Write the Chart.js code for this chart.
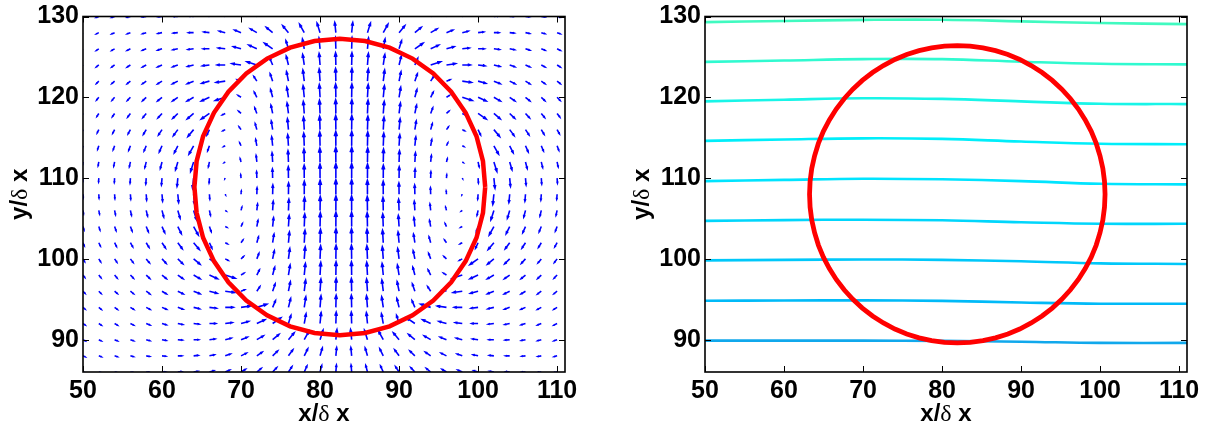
<!DOCTYPE html>
<html>
<head>
<meta charset="utf-8">
<script src="https://cdn.jsdelivr.net/npm/chart.js@4.4.0/dist/chart.umd.min.js"></script>
<style>
html, body { margin: 0; padding: 0; background: #fff; }
#wrap { position: relative; width: 1207px; height: 430px; }
.pane { position: absolute; top: 0; height: 430px; }
</style>
</head>
<body>
<div id="wrap">
  <div class="pane" style="left:0;width:600px"><canvas id="left"></canvas></div>
  <div class="pane" style="left:601px;width:606px"><canvas id="right"></canvas></div>
</div>
<script>
// axis ticks
const xTicks = [50, 60, 70, 80, 90, 100, 110]
const yTicks = [90, 100, 110, 120, 130]

// quiver grid (left panel)
const gridX = [50,52,54,56,58,60,62,64,66,68,70,72,74,76,78,80,82,84,86,88,90,92,94,96,98,100,102,104,106,108,110]
const gridY = [130,128,126,124,122,120,118,116,114,112,110,108,106,104,102,100,98,96,94,92,90,88,86]

// velocity, in hundredths, one row per gridY
const velU = [
  [-30,-34,-38,-42,-47,-52,-58,-63,-68,-72,-75,-74,-70,-62,-49,-32,-11,11,32,49,62,70,74,75,72,68,63,58,52,47,42],
  [-30,-34,-39,-44,-50,-56,-63,-70,-78,-84,-89,-91,-89,-80,-65,-42,-15,15,42,65,80,89,91,89,84,78,70,63,56,50,44],
  [-30,-34,-39,-45,-52,-59,-68,-78,-88,-98,-107,-113,-114,-35,-25,-15,-5,5,15,25,35,114,113,107,98,88,78,68,59,52,45],
  [-29,-34,-39,-45,-53,-62,-72,-84,-98,-113,-128,-140,-40,-31,-22,-13,-4,4,13,22,31,40,140,128,113,98,84,72,62,53,45],
  [-28,-32,-38,-44,-52,-62,-75,-89,-107,-128,-50,-42,-35,-27,-19,-12,-4,4,12,19,27,35,42,50,128,107,89,75,62,52,44],
  [-25,-30,-35,-42,-50,-61,-74,-91,-113,-140,-42,-36,-29,-23,-16,-10,-3,3,10,16,23,29,36,42,140,113,91,74,61,50,42],
  [-22,-26,-31,-38,-46,-57,-70,-89,-114,-40,-35,-29,-24,-19,-13,-8,-3,3,8,13,19,24,29,35,40,114,89,70,57,46,38],
  [-18,-22,-26,-32,-39,-49,-62,-80,-35,-31,-27,-23,-19,-14,-10,-6,-2,2,6,10,14,19,23,27,31,35,80,62,49,39,32],
  [-14,-16,-20,-24,-30,-38,-49,-65,-25,-22,-19,-16,-13,-10,-7,-4,-1,1,4,7,10,13,16,19,22,25,65,49,38,30,24],
  [-8,-10,-12,-15,-19,-24,-32,-42,-15,-13,-12,-10,-8,-6,-4,-3,-1,1,3,4,6,8,10,12,13,15,42,32,24,19,15],
  [-3,-3,-4,-5,-6,-8,-11,-15,-5,-4,-4,-3,-3,-2,-1,-1,0,0,1,1,2,3,3,4,4,5,15,11,8,6,5],
  [3,3,4,5,6,8,11,15,5,4,4,3,3,2,1,1,0,0,-1,-1,-2,-3,-3,-4,-4,-5,-15,-11,-8,-6,-5],
  [8,10,12,15,19,24,32,42,15,13,12,10,8,6,4,3,1,-1,-3,-4,-6,-8,-10,-12,-13,-15,-42,-32,-24,-19,-15],
  [14,16,20,24,30,38,49,65,25,22,19,16,13,10,7,4,1,-1,-4,-7,-10,-13,-16,-19,-22,-25,-65,-49,-38,-30,-24],
  [18,22,26,32,39,49,62,80,35,31,27,23,19,14,10,6,2,-2,-6,-10,-14,-19,-23,-27,-31,-35,-80,-62,-49,-39,-32],
  [22,26,31,38,46,57,70,89,114,40,35,29,24,19,13,8,3,-3,-8,-13,-19,-24,-29,-35,-40,-114,-89,-70,-57,-46,-38],
  [25,30,35,42,50,61,74,91,113,140,42,36,29,23,16,10,3,-3,-10,-16,-23,-29,-36,-42,-140,-113,-91,-74,-61,-50,-42],
  [28,32,38,44,52,62,75,89,107,128,50,42,35,27,19,12,4,-4,-12,-19,-27,-35,-42,-50,-128,-107,-89,-75,-62,-52,-44],
  [29,34,39,45,53,62,72,84,98,113,128,140,40,31,22,13,4,-4,-13,-22,-31,-40,-140,-128,-113,-98,-84,-72,-62,-53,-45],
  [30,34,39,45,52,59,68,78,88,98,107,113,114,35,25,15,5,-5,-15,-25,-35,-114,-113,-107,-98,-88,-78,-68,-59,-52,-45],
  [30,34,39,44,50,56,63,70,78,84,89,91,89,80,65,42,15,-15,-42,-65,-80,-89,-91,-89,-84,-78,-70,-63,-56,-50,-44],
  [30,34,38,42,47,52,58,63,68,72,75,74,70,62,49,32,11,-11,-32,-49,-62,-70,-74,-75,-72,-68,-63,-58,-52,-47,-42],
  [29,33,36,40,44,48,52,56,59,62,62,61,57,49,38,24,8,-8,-24,-38,-49,-57,-61,-62,-62,-59,-56,-52,-48,-44,-40]
]
const velV = [
  [-14,-13,-12,-11,-8,-5,0,6,14,25,37,51,67,83,97,108,114,114,108,97,83,67,51,37,25,14,6,0,-5,-8,-11],
  [-18,-17,-17,-16,-14,-11,-6,0,9,20,35,52,73,94,115,131,140,140,131,115,94,73,52,35,20,9,0,-6,-11,-14,-16],
  [-21,-22,-22,-22,-20,-18,-14,-9,0,12,29,51,77,112,134,149,156,156,149,134,112,77,51,29,12,0,-9,-14,-18,-20,-22],
  [-25,-27,-28,-28,-28,-27,-25,-20,-12,0,18,44,92,122,144,158,166,166,158,144,122,92,44,18,0,-12,-20,-25,-27,-28,-28],
  [-30,-32,-33,-35,-37,-38,-37,-35,-29,-18,19,63,100,130,152,167,174,174,167,152,130,100,63,19,-18,-29,-35,-37,-38,-37,-35],
  [-34,-36,-40,-43,-46,-49,-51,-52,-51,-44,26,70,107,137,159,174,181,181,174,159,137,107,70,26,-44,-51,-52,-51,-49,-46,-43],
  [-37,-41,-45,-50,-55,-61,-67,-73,-77,-20,32,76,113,143,165,180,187,187,180,165,143,113,76,32,-20,-77,-73,-67,-61,-55,-50],
  [-41,-45,-51,-57,-64,-73,-83,-94,-74,-15,37,81,118,148,170,184,192,192,184,170,148,118,81,37,-15,-74,-94,-83,-73,-64,-57],
  [-44,-49,-55,-63,-72,-83,-97,-115,-70,-11,40,85,122,151,173,188,195,195,188,173,151,122,85,40,-11,-70,-115,-97,-83,-72,-63],
  [-45,-51,-58,-67,-78,-91,-108,-131,-68,-9,43,87,124,153,176,190,198,198,190,176,153,124,87,43,-9,-68,-131,-108,-91,-78,-67],
  [-47,-53,-60,-69,-81,-95,-114,-140,-67,-8,44,88,125,155,177,192,199,199,192,177,155,125,88,44,-8,-67,-140,-114,-95,-81,-69],
  [-47,-53,-60,-69,-81,-95,-114,-140,-67,-8,44,88,125,155,177,192,199,199,192,177,155,125,88,44,-8,-67,-140,-114,-95,-81,-69],
  [-45,-51,-58,-67,-78,-91,-108,-131,-68,-9,43,87,124,153,176,190,198,198,190,176,153,124,87,43,-9,-68,-131,-108,-91,-78,-67],
  [-44,-49,-55,-63,-72,-83,-97,-115,-70,-11,40,85,122,151,173,188,195,195,188,173,151,122,85,40,-11,-70,-115,-97,-83,-72,-63],
  [-41,-45,-51,-57,-64,-73,-83,-94,-74,-15,37,81,118,148,170,184,192,192,184,170,148,118,81,37,-15,-74,-94,-83,-73,-64,-57],
  [-37,-41,-45,-50,-55,-61,-67,-73,-77,-20,32,76,113,143,165,180,187,187,180,165,143,113,76,32,-20,-77,-73,-67,-61,-55,-50],
  [-34,-36,-40,-43,-46,-49,-51,-52,-51,-44,26,70,107,137,159,174,181,181,174,159,137,107,70,26,-44,-51,-52,-51,-49,-46,-43],
  [-30,-32,-33,-35,-37,-38,-37,-35,-29,-18,19,63,100,130,152,167,174,174,167,152,130,100,63,19,-18,-29,-35,-37,-38,-37,-35],
  [-25,-27,-28,-28,-28,-27,-25,-20,-12,0,18,44,92,122,144,158,166,166,158,144,122,92,44,18,0,-12,-20,-25,-27,-28,-28],
  [-21,-22,-22,-22,-20,-18,-14,-9,0,12,29,51,77,112,134,149,156,156,149,134,112,77,51,29,12,0,-9,-14,-18,-20,-22],
  [-18,-17,-17,-16,-14,-11,-6,0,9,20,35,52,73,94,115,131,140,140,131,115,94,73,52,35,20,9,0,-6,-11,-14,-16],
  [-14,-13,-12,-11,-8,-5,0,6,14,25,37,51,67,83,97,108,114,114,108,97,83,67,51,37,25,14,6,0,-5,-8,-11],
  [-11,-10,-8,-6,-4,0,5,11,18,27,38,49,61,73,83,91,95,95,91,83,73,61,49,38,27,18,11,5,0,-4,-6]
]

// drop interface, left panel
const dropX = [100.9,100.62,99.8,98.43,96.59,94.33,91.7,88.79,85.7,82.5,79.3,76.21,73.3,70.67,68.41,66.57,65.2,64.38,64.1,64.38,65.2,66.57,68.41,70.67,73.3,76.21,79.3,82.5,85.7,88.79,91.7,94.33,96.59,98.43,99.8,100.62,100.9]
const dropY = [108.9,112.09,115.18,118.08,120.7,122.96,124.79,126.15,126.97,127.25,126.97,126.15,124.79,122.96,120.7,118.08,115.18,112.09,108.9,105.71,102.62,99.72,97.1,94.84,93.01,91.65,90.83,90.55,90.83,91.65,93.01,94.84,97.1,99.72,102.62,105.71,108.9]

// drop interface, right panel
const drop2X = [100.63,100.56,100.35,99.99,99.51,98.88,98.12,97.25,96.25,95.15,93.95,92.66,91.28,89.83,88.33,86.77,85.18,83.56,81.93,
  80.30,78.68,77.09,75.53,74.03,72.58,71.2,69.91,68.71,67.61,66.61,65.74,64.98,64.35,63.87,63.51,63.30,63.23,
  63.30,63.51,63.87,64.35,64.98,65.74,66.61,67.61,68.71,69.91,71.2,72.58,74.03,75.53,77.09,78.68,80.30,81.93,
  83.56,85.18,86.77,88.33,89.83,91.28,92.66,93.95,95.15,96.25,97.25,98.12,98.88,99.51,99.99,100.35,100.56,100.63]
const drop2Y = [108,109.6,111.2,112.76,114.29,115.78,117.2,118.55,119.83,121.01,122.09,123.07,123.93,124.68,125.3,125.77,126.12,126.33,126.4,
  126.33,126.12,125.77,125.3,124.68,123.93,123.07,122.09,121.01,119.83,118.55,117.2,115.78,114.29,112.76,111.2,109.6,108,
  106.4,104.8,103.24,101.71,100.22,98.8,97.45,96.17,94.99,93.91,92.93,92.07,91.32,90.7,90.23,89.88,89.67,89.6,
  89.67,89.88,90.23,90.7,91.32,92.07,92.93,93.91,94.99,96.17,97.45,98.8,100.22,101.71,103.24,104.8,106.4,108]

// contour lines, right panel
const levelX = [50, 60, 70, 80, 90, 100, 111]
const levelY = [
  [129.3, 129.45, 129.58, 129.6, 129.4, 129.2, 129.06],
  [124.38, 124.55, 124.72, 124.72, 124.4, 124.15, 124.08],
  [119.49, 119.7, 119.88, 119.8, 119.5, 119.2, 119.16],
  [114.6, 114.78, 114.92, 114.85, 114.52, 114.25, 114.19],
  [109.63, 109.78, 109.92, 109.85, 109.63, 109.3, 109.22],
  [104.71, 104.8, 104.85, 104.78, 104.54, 104.35, 104.34],
  [99.82, 99.88, 99.92, 99.88, 99.7, 99.45, 99.37],
  [94.81, 94.85, 94.87, 94.8, 94.6, 94.45, 94.45],
  [89.88, 89.88, 89.88, 89.85, 89.75, 89.6, 89.6]
]
const levelColors = ['rgb(64,250,192)', 'rgb(48,250,208)', 'rgb(24,245,232)', 'rgb(0,238,250)', 'rgb(0,228,255)',
  'rgb(0,214,252)', 'rgb(0,200,250)', 'rgb(0,186,248)', 'rgb(16,168,236)']

const arrowScale = 0.9
const tickFont = { family: 'Liberation Sans, Arial, sans-serif', size: 25, weight: 'bold', lineHeight: 1 }
const boldFont = 'bold 24px Liberation Sans'
const deltaFont = '24px Liberation Serif'

function pts(xs, ys) {
  return xs.map((x, i) => ({ x: x, y: ys[i] }))
}

function axisText(ctx, parts, cx, cy) {
  let w = 0
  parts.forEach(p => { ctx.font = p[1]; w += ctx.measureText(p[0]).width })
  let x = cx - w / 2
  ctx.textAlign = 'left'
  ctx.textBaseline = 'alphabetic'
  ctx.fillStyle = '#000'
  parts.forEach(p => { ctx.font = p[1]; ctx.fillText(p[0], x, cy); x += ctx.measureText(p[0]).width })
}

const frame = {
  id: 'frame',
  afterDraw(chart) {
    const { ctx, chartArea: a, scales: { x, y } } = chart
    ctx.save()
    ctx.strokeStyle = '#000'
    ctx.lineWidth = 1
    ctx.beginPath()
    xTicks.forEach(v => {
      const px = Math.round(x.getPixelForValue(v)) + 0.5
      ctx.moveTo(px, a.bottom); ctx.lineTo(px, a.bottom - 6)
      ctx.moveTo(px, a.top); ctx.lineTo(px, a.top + 6)
    })
    yTicks.forEach(v => {
      const py = Math.round(y.getPixelForValue(v)) + 0.5
      ctx.moveTo(a.left, py); ctx.lineTo(a.left + 6, py)
      ctx.moveTo(a.right, py); ctx.lineTo(a.right - 6, py)
    })
    ctx.stroke()
    ctx.lineWidth = 1.6
    ctx.strokeRect(a.left, a.top, a.right - a.left, a.bottom - a.top)
    const xl = [['x/', boldFont], ['\u03b4', deltaFont], [' x', boldFont]]
    const yl = [['y/', boldFont], ['\u03b4', deltaFont], [' x', boldFont]]
    axisText(ctx, xl, (a.left + a.right) / 2, 421)
    ctx.translate(a.left - 56, (a.top + a.bottom) / 2)
    ctx.rotate(-Math.PI / 2)
    axisText(ctx, yl, 0, 0)
    ctx.restore()
  }
}

const quiver = {
  id: 'quiver',
  beforeDatasetsDraw(chart) {
    const { ctx, chartArea: a, scales: { x, y } } = chart
    ctx.save()
    ctx.beginPath()
    ctx.rect(a.left, a.top, a.right - a.left, a.bottom - a.top)
    ctx.clip()
    ctx.strokeStyle = '#0000ff'
    ctx.lineWidth = 1.6
    ctx.beginPath()
    gridY.forEach((yv, j) => {
      gridX.forEach((xv, i) => {
        const u = velU[j][i] * 0.01 * arrowScale
        const v = velV[j][i] * 0.01 * arrowScale
        const x0 = x.getPixelForValue(xv), y0 = y.getPixelForValue(yv)
        const x1 = x.getPixelForValue(xv + u), y1 = y.getPixelForValue(yv + v)
        const dx = x1 - x0, dy = y1 - y0
        ctx.moveTo(x0, y0)
        ctx.lineTo(x1, y1)
        ctx.moveTo(x1 - 0.33 * (dx + 0.33 * dy), y1 - 0.33 * (dy - 0.33 * dx))
        ctx.lineTo(x1, y1)
        ctx.lineTo(x1 - 0.33 * (dx - 0.33 * dy), y1 - 0.33 * (dy + 0.33 * dx))
      })
    })
    ctx.stroke()
    ctx.restore()
  }
}

function scales(yWidth) {
  return {
    x: {
      type: 'linear', min: 50, max: 111,
      afterBuildTicks: s => { s.ticks = xTicks.map(v => ({ value: v })) },
      afterFit: s => { s.height = 58 },
      grid: { display: false, drawTicks: false },
      border: { display: false },
      ticks: { color: '#000', font: tickFont, padding: 7, maxRotation: 0, autoSkip: false }
    },
    y: {
      type: 'linear', min: 86, max: 130,
      afterBuildTicks: s => { s.ticks = yTicks.map(v => ({ value: v })) },
      afterFit: s => { s.width = yWidth },
      grid: { display: false, drawTicks: false },
      border: { display: false },
      ticks: { color: '#000', font: tickFont, padding: 4, autoSkip: false }
    }
  }
}

const common = {
  responsive: true,
  maintainAspectRatio: false,
  animation: false,
  events: [],
  plugins: { legend: { display: false }, tooltip: { enabled: false } }
}

new Chart(document.getElementById('left'), {
  type: 'scatter',
  data: {
    datasets: [{
      data: pts(dropX, dropY),
      showLine: true, borderColor: '#ff0000', borderWidth: 4.5,
      pointRadius: 0, tension: 0, fill: false
    }]
  },
  options: Object.assign({}, common, {
    layout: { padding: { left: 0, top: 13, right: 35, bottom: 0 } },
    scales: scales(83)
  }),
  plugins: [quiver, frame]
})

const rightSets = [{
  data: pts(drop2X, drop2Y),
  showLine: true, borderColor: '#ff0000', borderWidth: 4.8,
  pointRadius: 0, tension: 0, fill: false
}]
levelY.forEach((ys, k) => {
  rightSets.push({
    data: pts(levelX, ys),
    showLine: true, borderColor: levelColors[k], borderWidth: 2.6,
    pointRadius: 0, tension: 0.4, fill: false
  })
})

new Chart(document.getElementById('right'), {
  type: 'scatter',
  data: { datasets: rightSets },
  options: Object.assign({}, common, {
    layout: { padding: { left: 0, top: 13, right: 20, bottom: 0 } },
    scales: scales(104)
  }),
  plugins: [frame]
})
</script>
</body>
</html>
